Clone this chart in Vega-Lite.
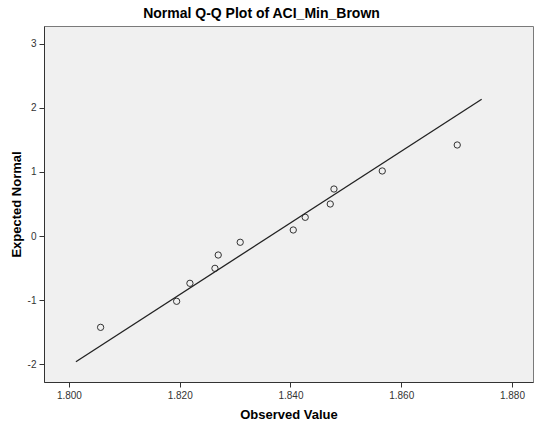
{
  "$schema": "https://vega.github.io/schema/vega-lite/v6.json",
  "width": 489,
  "height": 356,
  "autosize": {"type": "none"},
  "padding": {"left": 44, "top": 26, "right": 1, "bottom": 43},
  "background": "#ffffff",
  "title": {
    "text": "Normal Q-Q Plot of ACI_Min_Brown",
    "font": "Liberation Sans",
    "fontSize": 14,
    "fontWeight": "bold",
    "color": "#000000",
    "anchor": "middle",
    "frame": "group",
    "dx": -27,
    "offset": 5
  },
  "config": {
    "view": {"fill": "#f0f0f0", "stroke": "#7a7a7a", "strokeWidth": 1},
    "axis": {
      "labelFont": "Liberation Sans",
      "labelFontSize": 10,
      "labelColor": "#333333",
      "titleFont": "Liberation Sans",
      "titleFontSize": 13,
      "titleFontWeight": "bold",
      "titleColor": "#000000",
      "domainColor": "#333333",
      "tickColor": "#333333",
      "tickSize": 5,
      "grid": false
    }
  },
  "layer": [
    {
      "data": {
        "values": [
          {"observed": 1.80572, "expected": -1.427},
          {"observed": 1.81945, "expected": -1.020},
          {"observed": 1.82185, "expected": -0.739},
          {"observed": 1.82637, "expected": -0.505},
          {"observed": 1.82696, "expected": -0.297},
          {"observed": 1.83093, "expected": -0.098},
          {"observed": 1.84051, "expected": 0.094},
          {"observed": 1.84267, "expected": 0.292},
          {"observed": 1.84719, "expected": 0.500},
          {"observed": 1.84786, "expected": 0.734},
          {"observed": 1.85658, "expected": 1.016},
          {"observed": 1.87012, "expected": 1.422}
        ]
      },
      "mark": {"type": "point", "shape": "circle", "filled": false, "stroke": "#333333", "strokeWidth": 1, "size": 40, "opacity": 1},
      "encoding": {
        "x": {
          "field": "observed", "type": "quantitative",
          "scale": {"domain": [1.7955, 1.8838], "nice": false, "zero": false},
          "axis": {"values": [1.80, 1.82, 1.84, 1.86, 1.88], "format": ".3f", "title": "Observed Value", "titlePadding": 8, "labelPadding": 3}
        },
        "y": {
          "field": "expected", "type": "quantitative",
          "scale": {"domain": [-2.281, 3.281], "nice": false, "zero": false},
          "axis": {
            "values": [-2, -1, 0, 1, 2, 3],
            "labelExpr": "datum.value < 0 ? '-' + abs(datum.value) : '' + datum.value",
            "title": "Expected Normal",
            "titleX": -28,
            "titleY": 178,
            "titleAngle": -90,
            "titleAlign": "center",
            "titleBaseline": "middle",
            "labelPadding": 3
          }
        }
      }
    },
    {
      "data": {
        "values": [
          {"observed": 1.80126, "expected": -1.964},
          {"observed": 1.87453, "expected": 2.136}
        ]
      },
      "mark": {"type": "line", "color": "#222222", "strokeWidth": 1.3},
      "encoding": {
        "x": {"field": "observed", "type": "quantitative"},
        "y": {"field": "expected", "type": "quantitative"}
      }
    }
  ]
}
